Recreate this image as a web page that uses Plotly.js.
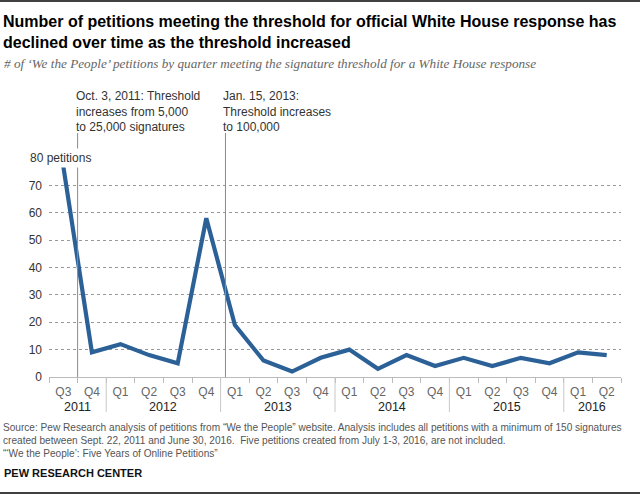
<!DOCTYPE html>
<html>
<head>
<meta charset="utf-8">
<script src="https://cdn.plot.ly/plotly-3.0.1.min.js"></script>
<style>html,body{margin:0;padding:0;background:#fff;}#chart{width:640px;height:495px;}</style>
</head>
<body>
<div id="chart"></div>
<script>
// ---- data ----
const quarters = ['Q3','Q4','Q1','Q2','Q3','Q4','Q1','Q2','Q3','Q4','Q1','Q2','Q3','Q4','Q1','Q2','Q3','Q4','Q1','Q2'];
const years = [2011,2011,2012,2012,2012,2012,2013,2013,2013,2013,2014,2014,2014,2014,2015,2015,2015,2015,2016,2016];
const petitions = [77,9,12,8,5,58,19,6,2,7,10,3,8,4,7,4,7,5,9,8];
const yTicks = [0,10,20,30,40,50,60,70,80];
const yTickText = ['0','10','20','30','40','50','60','70',''];
const topLabel = '80 petitions';
const events = [
  {x: 0.5, text: 'Oct. 3, 2011: Threshold<br>increases from 5,000<br>to 25,000 signatures'},
  {x: 5.67, text: 'Jan. 15, 2013:<br>Threshold increases<br>to 100,000'}
];
const titleText = '<b>Number of petitions meeting the threshold for official White House response has<br>declined over time as the threshold increased</b>';
const subtitleText = '# of \u2018We the People\u2019 petitions by quarter meeting the signature threshold for a White House response';
const sourceText = 'Source: Pew Research analysis of petitions from \u201cWe the People\u201d website. Analysis includes all petitions with a minimum of 150 signatures<br>created between Sept. 22, 2011 and June 30, 2016.  Five petitions created from July 1-3, 2016, are not included.<br>\u201c\u2018We the People\u2019: Five Years of Online Petitions\u201d';
const creditText = '<b>PEW RESEARCH CENTER</b>';

// ---- layout helpers ----
const W = 640, H = 495, L = 49, R = 19, T = 158, B = 118;
const pw = W - L - R, ph = H - T - B;
const px = x => (x - L) / pw;
const py = y => (H - B - y) / ph;
const idx = quarters.map((q, i) => i);

const shapes = [];
const annotations = [];

// year separators
const uniqYears = [...new Set(years)];
uniqYears.forEach((yr, k) => {
  const ii = idx.filter(i => years[i] === yr);
  const c = ii.reduce((a, b) => a + b, 0) / ii.length;
  annotations.push({x: c, y: py(407), xref: 'x', yref: 'paper', text: String(yr), showarrow: false,
    font: {size: 12.5, color: '#222', family: 'Liberation Sans, Arial, sans-serif'}, xanchor: 'center', yanchor: 'middle'});
  if (k > 0) {
    const b = ii[0] - 0.5;
    shapes.push({type: 'line', xref: 'x', yref: 'paper', x0: b, x1: b, y0: 0, y1: py(412), line: {color: '#c8c8c8', width: 1}});
  }
});

// event lines + labels
events.forEach(ev => {
  shapes.push({type: 'line', xref: 'x', yref: 'paper', x0: ev.x, x1: ev.x, y0: 0, y1: py(133), line: {color: '#8a8a8a', width: 1}});
  annotations.push({x: ev.x, y: py(87), xref: 'x', yref: 'paper', text: ev.text, showarrow: false, align: 'left',
    xanchor: 'left', yanchor: 'top', xshift: -4, font: {size: 12, color: '#333', family: 'Liberation Sans, Arial, sans-serif'}});
});

// 80 petitions label
annotations.push({x: px(27), y: 80, xref: 'paper', yref: 'y', text: topLabel, showarrow: false, xanchor: 'left', yanchor: 'middle',
  bgcolor: '#fff', borderpad: 2, font: {size: 12, color: '#333', family: 'Liberation Sans, Arial, sans-serif'}});

// header
annotations.push({x: px(1), y: py(11), xref: 'paper', yref: 'paper', text: titleText, showarrow: false, align: 'left',
  xanchor: 'left', yanchor: 'top', font: {size: 16, color: '#000', family: 'Liberation Sans, Arial, sans-serif'}});
annotations.push({x: px(2), y: py(64), xref: 'paper', yref: 'paper', text: '<i>' + subtitleText + '</i>', showarrow: false,
  xanchor: 'left', yanchor: 'middle', font: {size: 13.2, color: '#666', family: 'Liberation Serif, Georgia, serif'}});
// footer
annotations.push({x: px(1), y: py(420), xref: 'paper', yref: 'paper', text: sourceText, showarrow: false, align: 'left',
  xanchor: 'left', yanchor: 'top', font: {size: 10.1, color: '#555', family: 'Liberation Sans, Arial, sans-serif'}});
annotations.push({x: px(2), y: py(473), xref: 'paper', yref: 'paper', text: creditText, showarrow: false,
  xanchor: 'left', yanchor: 'middle', font: {size: 11, color: '#111', family: 'Liberation Sans, Arial, sans-serif'}});

// border lines
shapes.push({type: 'line', xref: 'paper', yref: 'paper', x0: px(0), x1: px(640), y0: py(1), y1: py(1), line: {color: '#000', width: 1.5}});
shapes.push({type: 'line', xref: 'paper', yref: 'paper', x0: px(0), x1: px(640), y0: py(493), y1: py(493), line: {color: '#000', width: 1.5}});

const trace = {
  x: idx, y: petitions, type: 'scatter', mode: 'lines',
  line: {color: '#2c6198', width: 4.2}, hoverinfo: 'skip'
};

const layout = {
  width: W, height: H,
  margin: {l: L, r: R, t: T, b: B, pad: 0},
  paper_bgcolor: '#fff', plot_bgcolor: '#fff',
  showlegend: false,
  font: {family: 'Liberation Sans, Arial, sans-serif', size: 12, color: '#333'},
  xaxis: {
    range: [-0.5, quarters.length - 0.5], tickmode: 'array', tickvals: idx, ticktext: quarters,
    showgrid: false, zeroline: false, showline: true, linecolor: '#bbb', linewidth: 1,
    ticks: '', ticklabelstandoff: 4, tickfont: {size: 12, color: '#666'},
    minor: {tickmode: 'linear', tick0: -0.5, dtick: 1, ticks: 'outside', ticklen: 5, tickcolor: '#bbb', tickwidth: 1, showgrid: false},
    fixedrange: true
  },
  yaxis: {
    range: [0, 80], tickmode: 'array', tickvals: yTicks, ticktext: yTickText,
    showgrid: true, gridcolor: '#999', griddash: 'dot', gridwidth: 1, zeroline: false, showline: false,
    ticks: '', ticklabelstandoff: 6, tickfont: {size: 12, color: '#333'}, fixedrange: true
  },
  shapes: shapes,
  annotations: annotations
};

Plotly.newPlot('chart', [trace], layout, {displayModeBar: false, staticPlot: true});
</script>
</body>
</html>
